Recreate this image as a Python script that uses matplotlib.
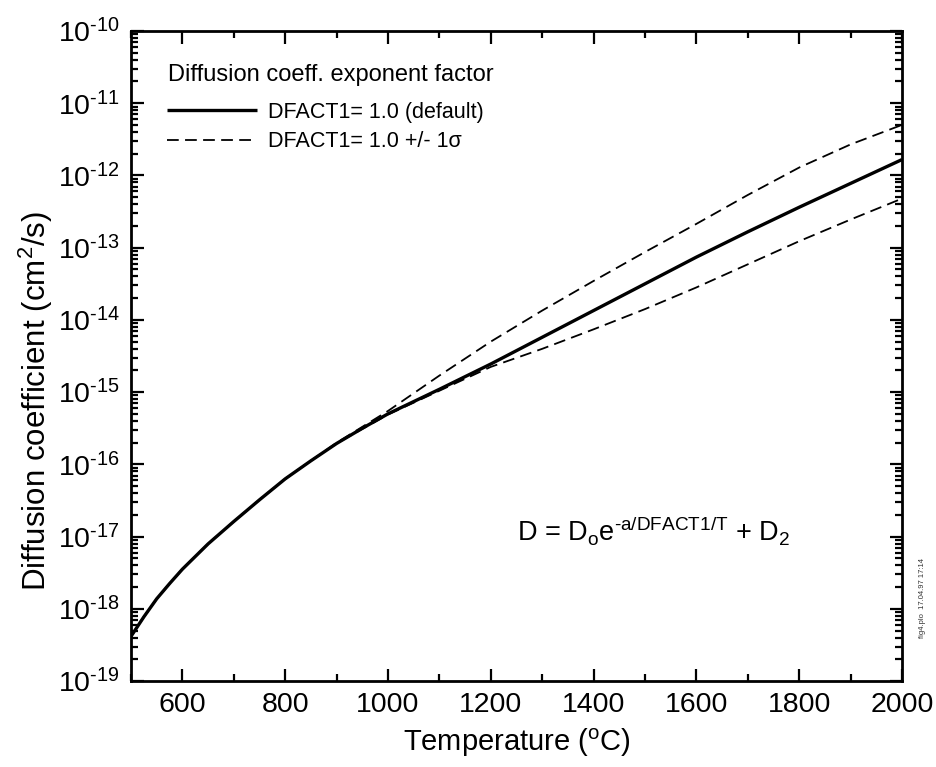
import numpy as np
import matplotlib
matplotlib.use("Agg")
import matplotlib.pyplot as plt
from matplotlib.ticker import FixedLocator, FuncFormatter, MultipleLocator, NullFormatter

plt.rcParams['font.family'] = ['Liberation Sans', 'DejaVu Sans']
plt.rcParams['mathtext.fontset'] = 'custom'
plt.rcParams['mathtext.rm'] = 'Liberation Sans'
plt.rcParams['mathtext.it'] = 'Liberation Sans:italic'
plt.rcParams['mathtext.bf'] = 'Liberation Sans:bold'

# Temperature (deg C) and log10 of diffusion coefficient (cm^2/s)
temp_solid = [500, 525, 550, 575, 600, 650, 700, 750, 800, 850, 900, 950, 1000,
              1100, 1200, 1300, 1400, 1500, 1600, 1700, 1800, 1900, 2000]
logD_default = [-18.38, -18.11, -17.86, -17.65, -17.45, -17.10, -16.79, -16.49,
                -16.20, -15.95, -15.71, -15.50, -15.30, -14.96, -14.61, -14.24,
                -13.87, -13.50, -13.13, -12.78, -12.44, -12.11, -11.78]

temp_sigma = [500, 525, 550, 575, 600, 650, 700, 750, 800, 850, 900, 950, 1000,
              1100, 1200, 1300, 1400, 1500, 1600, 1700, 1800, 1900, 2000]
logD_plus = [-18.38, -18.11, -17.86, -17.65, -17.45, -17.10, -16.79, -16.49,
             -16.20, -15.95, -15.70, -15.48, -15.26, -14.77, -14.30, -13.87,
             -13.46, -13.06, -12.67, -12.27, -11.89, -11.57, -11.30]
logD_minus = [-18.38, -18.11, -17.86, -17.65, -17.45, -17.10, -16.79, -16.49,
              -16.20, -15.95, -15.71, -15.51, -15.31, -14.98, -14.65, -14.40,
              -14.13, -13.85, -13.55, -13.23, -12.91, -12.61, -12.32]

y_exponents = list(range(-19, -9))

fig = plt.figure(figsize=(9.36, 7.67), dpi=100)
ax = fig.add_axes([0.140, 0.112, 0.8237, 0.8476])

ax.plot(temp_sigma, 10 ** np.array(logD_plus), color='black', lw=1.3,
        ls=(0, (6.5, 3.5)), label='DFACT1= 1.0 +/- 1σ')
ax.plot(temp_sigma, 10 ** np.array(logD_minus), color='black', lw=1.3,
        ls=(0, (6.5, 3.5)))
ax.plot(temp_solid, 10 ** np.array(logD_default), color='black', lw=2.4,
        solid_capstyle='butt', solid_joinstyle='round', label='DFACT1= 1.0 (default)')

ax.set_yscale('log')
ax.set_xlim(500, 2000)
ax.set_ylim(1e-19, 1e-10)

ax.xaxis.set_major_locator(MultipleLocator(200))
ax.xaxis.set_minor_locator(MultipleLocator(100))
major_y = [10.0 ** e for e in y_exponents]
minor_y = [m * 10.0 ** e for e in y_exponents[:-1] for m in range(2, 10)]
ax.yaxis.set_major_locator(FixedLocator(major_y))
ax.yaxis.set_minor_locator(FixedLocator(minor_y))
ax.yaxis.set_minor_formatter(NullFormatter())

def yfmt(v, pos):
    e = int(round(np.log10(v)))
    return r'$\mathregular{10^{\text{-%d}}}$' % abs(e)
ax.yaxis.set_major_formatter(FuncFormatter(yfmt))

def xfmt(v, pos):
    if v < 550:
        return ''
    return '%d' % v
ax.xaxis.set_major_formatter(FuncFormatter(xfmt))

ax.tick_params(which='both', direction='in', top=True, right=True, width=1.6,
               labelsize=20.5)
ax.tick_params(which='major', length=9, pad=8)
ax.tick_params(which='minor', length=5)
for s in ax.spines.values():
    s.set_linewidth(2.0)

ax.set_xlabel(r'Temperature ($\mathregular{^o}$C)', fontsize=21, labelpad=6)
ax.set_ylabel(r'Diffusion coefficient (cm$\mathregular{^2}$/s)', fontsize=22.5)
ax.yaxis.set_label_coords(-0.099, 0.431)

ax.text(0.048, 0.932, 'Diffusion coeff. exponent factor', transform=ax.transAxes,
        fontsize=17, ha='left', va='center')
handles, labels = ax.get_legend_handles_labels()
leg = ax.legend(handles[::-1], labels[::-1],
                loc='upper left', bbox_to_anchor=(0.0467, 0.891), frameon=False,
                fontsize=15.5, handlelength=4.2, borderaxespad=0, borderpad=0,
                handletextpad=0.5, labelspacing=0.4)

ax.text(0.50, 0.232, r'D = D$_\mathregular{o}$e$^{\mathregular{\text{-a/DFACT1/T}}}$ + D$_\mathregular{2}$',
        transform=ax.transAxes, fontsize=19.5, ha='left', va='center')

fig.text(0.986, 0.22, 'fig4.plo  17.04.97 17:14', rotation=90, fontsize=5.5,
         color='#333333', ha='center', va='center')

fig.savefig('out.png', dpi=100)
